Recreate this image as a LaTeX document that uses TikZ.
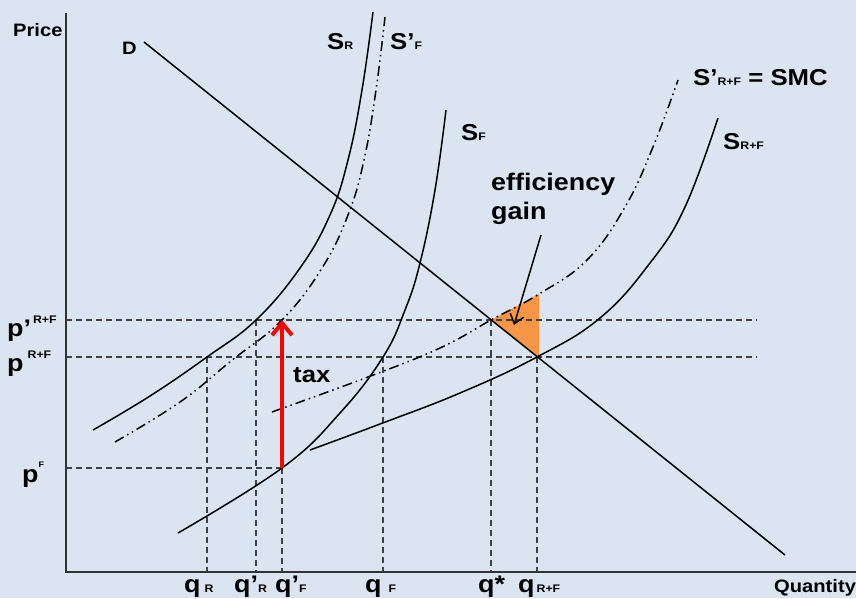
\documentclass[tikz,border=0pt]{standalone}
\usepackage{fontspec}
\setmainfont{Liberation Sans}[FakeStretch=1.12]
\usetikzlibrary{arrows.meta, positioning}
\definecolor{bgblue}{RGB}{219,229,241}
\definecolor{gainorange}{RGB}{247,150,70}
\definecolor{guidegray}{RGB}{64,64,64}
\definecolor{taxred}{RGB}{255,0,0}
\newcommand{\lblsub}[1]{{\fontsize{11}{11}\selectfont #1}}

\begin{document}
\begin{tikzpicture}[
    x=1pt, y=-1pt,
    % Styles
    axis_line/.style={line width=2pt, draw=black!80},
    supply_curve/.style={line width=1.5pt, draw=black},
    taxed_curve/.style={line width=1.5pt, draw=black,
      dash pattern=on 10pt off 4pt on 1.5pt off 4pt on 1.5pt off 4pt},
    guide_line/.style={line width=1.3pt, draw=guidegray, dash pattern=on 6pt off 4pt},
    tax_arrow/.style={line width=4pt, draw=taxred, -{Straight Barb[length=12pt, width=20pt]}},
    gain_arrow/.style={line width=1.5pt, draw=black, -{Straight Barb[length=9pt, width=14pt]}},
    curve_label/.style={font=\fontsize{23}{24}\selectfont\bfseries, inner sep=0pt, anchor=base west},
    axis_label/.style={font=\fontsize{18}{20}\selectfont\bfseries, inner sep=0pt, anchor=base west},
    price_label/.style={font=\fontsize{24}{24}\selectfont\bfseries, inner sep=0pt, anchor=base west}
  ]

  % --- 0. CANVAS ---
  \useasboundingbox (0,0) rectangle (856,598);
  \fill[bgblue] (0,0) rectangle (856,598);
  \clip (0,0) rectangle (856,598);

  % --- 1. POINTS ---
  \coordinate (origin) at (66,572);
  \coordinate (y_top) at (66,13);
  \coordinate (x_end) at (856,572);
  \coordinate (d_start) at (144,42);
  \coordinate (d_end) at (785,555);
  \coordinate (eq_tax) at (491,320);   % D meets S'(R+F)
  \coordinate (eq_free) at (537,357);  % D meets S(R+F)
  \coordinate (gain_top) at (539,294);
  \coordinate (r_tax) at (256,320);
  \coordinate (f_tax) at (282,320);
  \coordinate (r_free) at (207,357);
  \coordinate (f_free) at (383,357);
  \coordinate (f_home) at (282,468);
  \coordinate (guide_end1) at (757,320);
  \coordinate (guide_end2) at (757,357);
  \coordinate (gain_tail) at (541,235);
  \coordinate (gain_tip) at (514,325);

  % efficiency gain area
  \fill[gainorange] (eq_tax) -- (gain_top) -- (gain_top |- eq_free) -- cycle;

  % --- 2. GUIDES ---
  \draw[guide_line] (origin |- eq_tax) -- (guide_end1);
  \draw[guide_line] (origin |- eq_free) -- (guide_end2);
  \draw[guide_line] (origin |- f_home) -- (f_home);
  \draw[guide_line] (r_free) -- (r_free |- origin);
  \draw[guide_line] (r_tax) -- (r_tax |- origin);
  \draw[guide_line] (f_home) -- (f_home |- origin);
  \draw[guide_line] (f_free) -- (f_free |- origin);
  \draw[guide_line] (eq_tax) -- (eq_tax |- origin);
  \draw[guide_line] (eq_free) -- (eq_free |- origin);

  % axes
  \draw[axis_line] (y_top) -- (origin) -- (x_end);

  % --- 3. CURVES ---
  \draw[supply_curve] (d_start) -- (d_end);
  % S_R
  \draw[supply_curve] plot[smooth, tension=0.7] coordinates
    {(93,430) (150,396) (r_free) (r_tax) (300,268) (330,215) (348,160) (362,90) (373,12)};
  % S'_F
  \draw[taxed_curve] plot[smooth, tension=0.7] coordinates
    {(115,442) (180,402) (231,361) (f_tax) (322,268) (348,215) (364,160) (376,90) (385,17)};
  % S_F
  \draw[supply_curve] plot[smooth, tension=0.7] coordinates
    {(178,533) (f_home) (340,413) (f_free) (405,310) (420,263) (435,190) (446,110)};
  % S_(R+F)
  \draw[supply_curve] plot[smooth, tension=0.7] coordinates
    {(310,450) (380,424) (460,393) (eq_free) (600,318) (650,263) (685,207) (718,118)};
  % S'_(R+F)
  \draw[taxed_curve] plot[smooth, tension=0.7] coordinates
    {(272,412) (368,377) (440,348) (eq_tax) (gain_top) (587,260) (625,207) (653,147) (678,80)};

  % --- 4. ARROWS ---
  \draw[tax_arrow] (f_home) -- (f_tax);
  \draw[gain_arrow] (gain_tail) -- (gain_tip);

  % --- 5. LABELS ---
  \node[axis_label] (price_lbl) at (13,36) {Price};
  \node[axis_label] (qty_lbl) at (774,592) {Quantity};
  \node[axis_label, font=\fontsize{18}{18}\selectfont\bfseries] (d_lbl) at (122,54) {D};
  \node[curve_label] (sr_lbl) at (327,49) {S\lblsub{R}};
  \node[curve_label] (sfp_lbl) at (390,49) {S’\lblsub{F}};
  \node[curve_label] (sf_lbl) at (461,140) {S\lblsub{F}};
  \node[curve_label] (smc_lbl) at (693,85) {S’\lblsub{R+F} = SMC};
  \node[curve_label] (srf_lbl) at (723,149) {S\lblsub{R+F}};
  \node[curve_label, anchor=north west, align=left,
        font=\fontsize{24}{29}\selectfont\bfseries] (gain_lbl) at (491,173) {efficiency\\gain};
  \node[curve_label] (tax_lbl) at (293,382) {tax};

  % price axis
  \node[price_label] (ptax_lbl) at (7,336) {p’\hspace{2pt}\raisebox{13pt}{\lblsub{R+F}}};
  \node[price_label] (pfree_lbl) at (7,371) {p\hspace{4pt}\raisebox{13pt}{\lblsub{R+F}}};
  \node[price_label] (pf_lbl) at (22,482) {p\raisebox{15pt}{\fontsize{8}{8}\selectfont F}};

  % quantity axis
  \node[price_label] (qr_lbl) at (184,592) {q\hspace{4pt}\lblsub{R}};
  \node[price_label] (qrp_lbl) at (234,592) {q’\lblsub{R}};
  \node[price_label] (qfp_lbl) at (275,592) {q’\lblsub{F}};
  \node[price_label] (qf_lbl) at (365,592) {q\hspace{7pt}\lblsub{F}};
  \node[price_label] (qstar_lbl) at (478,592) {q*};
  \node[price_label] (qrf_lbl) at (518,592) {q\hspace{2pt}\lblsub{R+F}};

\end{tikzpicture}
\end{document}
